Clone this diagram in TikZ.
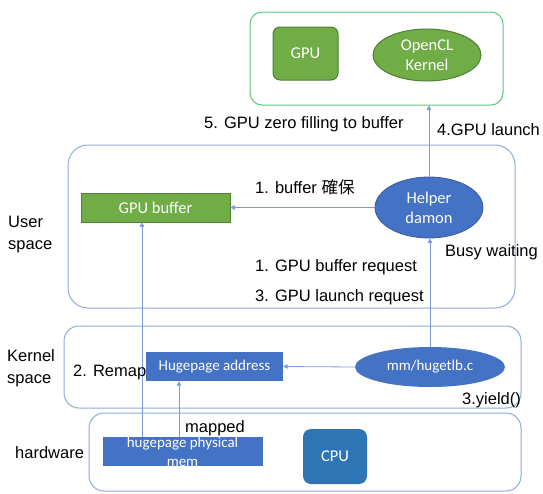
\documentclass[tikz,border=0pt]{standalone}
\usepackage{fontspec}
\setmainfont{Liberation Sans}
\newfontfamily\calfont{Carlito}
\newfontfamily\cjkfont{Noto Sans CJK JP}
\usetikzlibrary{shapes.geometric,arrows.meta}
\definecolor{boxblue}{HTML}{4472C4}
\definecolor{cpublue}{HTML}{2E75B6}
\definecolor{gfill}{HTML}{70AD47}
\definecolor{gdraw}{HTML}{507E32}
\definecolor{layer}{HTML}{8FAADC}
\definecolor{topg}{HTML}{5CC87A}
\definecolor{arr}{HTML}{7A9CD9}
\begin{document}
\begin{tikzpicture}[x=1pt,y=-1pt,
  layerbox/.style={draw=layer,line width=1pt,inner sep=0pt},
  inner/.style={text=white,font=\calfont\fontsize{16.5}{20}\selectfont,align=center,inner sep=0pt},
  small/.style={text=white,font=\calfont\fontsize{15}{18}\selectfont,align=center,inner sep=0pt},
  lbl/.style={font=\fontsize{16.5}{22}\selectfont,anchor=base west,inner sep=0pt,align=left},
  conn/.style={draw=arr,line width=0.8pt,-{Triangle[length=4.5pt,width=4.5pt]}}
]
\useasboundingbox (0,0) rectangle (543,493);
% layers
\node[layerbox,draw=topg,rounded corners=12pt,minimum width=253pt,minimum height=93pt] (top) at (376.5,58.5) {};
\node[layerbox,rounded corners=20pt,minimum width=447pt,minimum height=163pt] (user) at (291.5,226.5) {};
\node[layerbox,rounded corners=15pt,minimum width=457pt,minimum height=82pt] (kern) at (292.5,367) {};
\node[layerbox,rounded corners=15pt,minimum width=432pt,minimum height=78pt] (hw) at (305,452) {};
% shapes
\node[inner,fill=gfill,draw=gdraw,line width=1pt,rounded corners=7pt,minimum width=65pt,minimum height=53pt] (gpu) at (305.5,53.5) {GPU};
\node[inner,ellipse,fill=gfill,draw=gdraw,line width=1pt,minimum width=108pt,minimum height=52pt] (ocl) at (427,55) {OpenCL\\Kernel};
\node[inner,fill=gfill,draw=gdraw,line width=0.6pt,minimum width=149pt,minimum height=29pt] (buf) at (155.5,207.5) {GPU buffer};
\node[inner,ellipse,fill=boxblue,draw=boxblue!80!black,line width=0.8pt,minimum width=108pt,minimum height=61pt] (helper) at (429,207.5) {Helper\\damon};
\node[small,fill=boxblue,minimum width=137pt,minimum height=29pt] (hpa) at (214.5,366.5) {Hugepage address};
\node[small,ellipse,fill=boxblue,minimum width=150pt,minimum height=40pt] (mmh) at (430,367) {mm/hugetlb.c};
\node[fill=boxblue,minimum width=160pt,minimum height=29pt,inner sep=0pt] (phys) at (182.5,451.5) {};
\node[small,align=center,anchor=base,font=\calfont\fontsize{15}{19}\selectfont] (physt) at (182.5,466) {hugepage physical\\mem};
\node[inner,fill=cpublue,rounded corners=8pt,minimum width=64pt,minimum height=55pt] (cpu) at (335,456.5) {CPU};
% connectors
\draw[conn] (helper.north) -- (helper.north |- top.south);
\draw[conn] (helper.west) -- (buf.east);
\draw[conn] (mmh.north) -- (mmh.north |- helper.south);
\draw[conn] (mmh.west) -- (hpa.east);
\coordinate (p1) at ([xshift=-3.5pt]phys.north);
\draw[conn] (p1) -- (p1 |- hpa.south);
\coordinate (p2) at ([xshift=-40.5pt]phys.north);
\draw[conn] (p2) -- (p2 |- buf.south);
% labels
\node[lbl] (l5) at (204,128) {5. GPU zero filling to buffer};
\node[lbl] (l4) at (437,135) {4.GPU launch};
\node[lbl] (l1) at (255,193) {1. buffer {\cjkfont 確保}};
\node[lbl] (lbw) at (445,256) {Busy waiting};
\node[lbl] (l1r) at (255,271) {1. GPU buffer request};
\node[lbl] (l3r) at (255,301) {3. GPU launch request};
\node[lbl] (lus) at (8,249) {User\\space};
\node[lbl] (lks) at (7,383) {Kernel\\space};
\node[lbl] (lrm) at (73,376) {2. Remap};
\node[lbl] (lyd) at (462,404) {3.yield()};
\node[lbl] (lmp) at (185,432) {mapped};
\node[lbl] (lhw) at (15,458) {hardware};
\end{tikzpicture}
\end{document}
